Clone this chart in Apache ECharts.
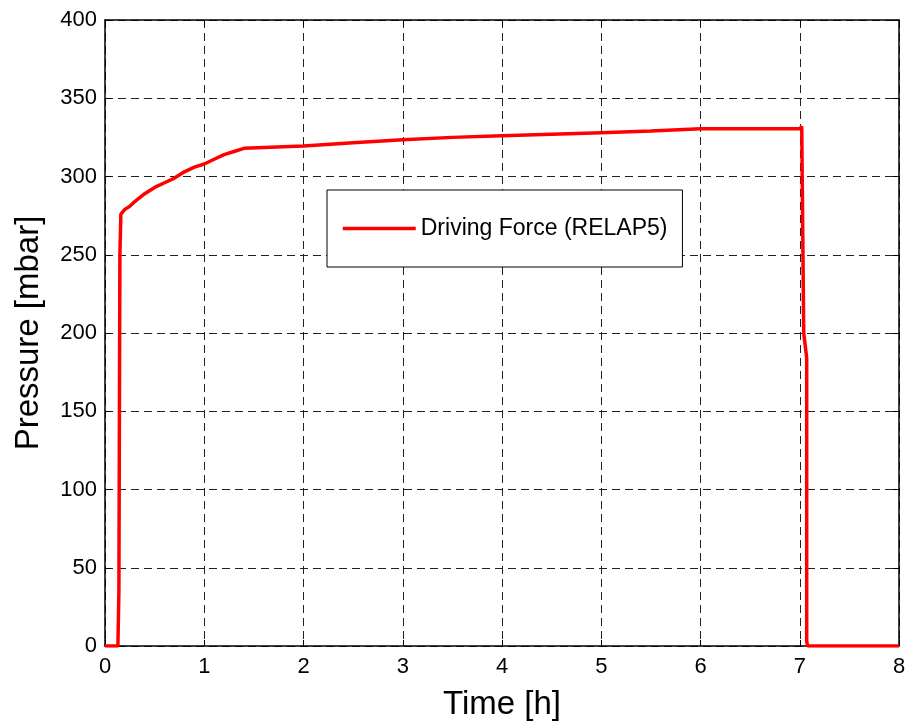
<!DOCTYPE html>
<html>
<head>
<meta charset="utf-8">
<script src="https://cdn.jsdelivr.net/npm/echarts@6/dist/echarts.min.js"></script>
<style>
  html, body { margin: 0; padding: 0; background: #fff; }
  #container { width: 907px; height: 722px; }
</style>
</head>
<body>
<div id="container"></div>
<script>
// time [h] and pressure [mbar]
var timeH = [0, 0.13, 0.14, 0.15, 0.16, 0.2, 0.25, 0.3, 0.4, 0.5, 0.6, 0.7, 0.8, 0.9,
  1.0, 1.1, 1.2, 1.3, 1.4, 1.6, 2.0, 2.5, 3.0, 3.5, 4.0, 4.5, 5.0, 5.5, 6.0, 6.5,
  7.0, 7.02, 7.04, 7.04, 7.07, 7.07, 7.08, 8.0];
var pressure = [0, 0, 35, 250, 276, 279, 281, 284, 289, 293, 296, 299, 303, 306,
  308, 311, 314, 316, 318, 318.5, 319.5, 321.5, 323.5, 325, 326, 327, 328, 329, 330.5, 330.5,
  330.5, 332, 332, 200, 184, 3, 0, 0];
var xTicks = { min: 0, max: 8, interval: 1 };
var yTicks = { min: 0, max: 400, interval: 50 };
var seriesName = 'Driving Force (RELAP5)';

var points = timeH.map(function (t, i) { return [t, pressure[i]]; });

var font = 'Liberation Sans, Arial, sans-serif';
var gridLine = { show: true, lineStyle: { color: '#222', type: [8, 5], width: 1 } };
var axisLine = { show: true, onZero: false, lineStyle: { color: '#000', width: 1.5 } };
var tick = { show: true, inside: true, length: 6, lineStyle: { color: '#000', width: 1 } };

var chart = echarts.init(document.getElementById('container'));
chart.setOption({
    animation: false,
    backgroundColor: '#fff',
    grid: { left: 105, top: 20, right: 8, bottom: 76, containLabel: false, outerBoundsMode: 'none' },
    legend: {
        left: 327,
        top: 190,
        data: [seriesName],
        itemWidth: 73,
        itemHeight: 14,
        itemGap: 8,
        padding: [27, 15, 27, 14],
        backgroundColor: '#fff',
        borderColor: '#000',
        borderWidth: 1,
        itemStyle: { opacity: 0 },
        lineStyle: { width: 3.5, color: '#ff0000' },
        textStyle: { fontFamily: font, fontSize: 23, color: '#000' }
    },
    xAxis: [{
        type: 'value',
        min: xTicks.min, max: xTicks.max, interval: xTicks.interval,
        name: 'Time [h]',
        nameLocation: 'middle',
        nameGap: 42,
        nameTextStyle: { fontFamily: font, fontSize: 33, color: '#000' },
        axisLine: axisLine,
        axisTick: tick,
        axisLabel: { fontFamily: font, fontSize: 22, color: '#000', margin: 10 },
        splitLine: gridLine
    }, {
        type: 'value', position: 'top',
        min: xTicks.min, max: xTicks.max, interval: xTicks.interval,
        axisLine: axisLine, axisTick: tick,
        axisLabel: { show: false }, splitLine: { show: false }
    }],
    yAxis: [{
        type: 'value',
        min: yTicks.min, max: yTicks.max, interval: yTicks.interval,
        name: 'Pressure [mbar]',
        nameLocation: 'middle',
        nameGap: 60,
        nameTextStyle: { fontFamily: font, fontSize: 33, color: '#000' },
        axisLine: axisLine,
        axisTick: tick,
        axisLabel: { fontFamily: font, fontSize: 22, color: '#000', margin: 8 },
        splitLine: gridLine
    }, {
        type: 'value', position: 'right',
        min: yTicks.min, max: yTicks.max, interval: yTicks.interval,
        axisLine: axisLine, axisTick: tick,
        axisLabel: { show: false }, splitLine: { show: false }
    }],
    series: [{
        name: seriesName,
        type: 'line',
        data: points,
        symbol: 'none',
        lineStyle: { color: '#ff0000', width: 3.5 },
        itemStyle: { color: '#ff0000' }
    }]
});
</script>
</body>
</html>
